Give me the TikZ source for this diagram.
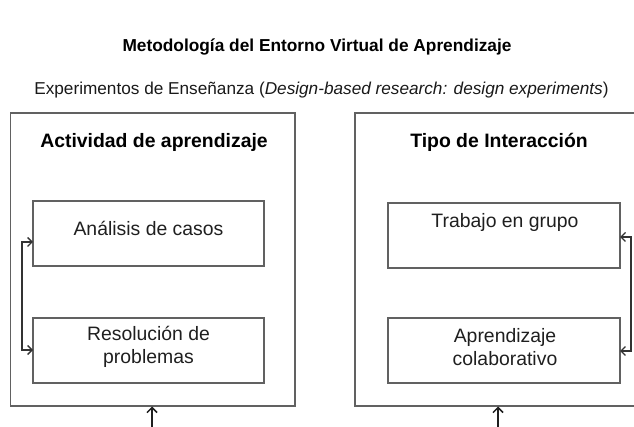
\documentclass[tikz,border=0pt]{standalone}
\usepackage{fontspec}
\setmainfont{Liberation Sans}
\usetikzlibrary{arrows.meta}
\begin{document}
\begin{tikzpicture}[x=1pt,y=-1pt,
  frame/.style={draw=black!62, line width=1.4pt},
  boxnode/.style={draw=black!62, line width=1.3pt, minimum width=231pt, minimum height=65pt, inner sep=0pt},
  boxtext/.style={font=\fontsize{19.4}{23}\selectfont, align=center, inner sep=0pt, text=black!88},
  headtext/.style={font=\bfseries\fontsize{19.4}{23}\selectfont, inner sep=0pt, text=black},
  tip/.style={Straight Barb[length=4.5pt,width=9pt,line width=1.4pt]},
  conn/.style={draw=black!88, line width=1.3pt, -{Straight Barb[length=5pt,width=10pt,line width=1.5pt]}},
  connboth/.style={draw=black!80, line width=1.2pt, {Straight Barb[length=4.5pt,width=9pt,line width=1.4pt]}-{Straight Barb[length=4.5pt,width=9pt,line width=1.4pt]}}]
\useasboundingbox (0,0) rectangle (634,427);
\clip (0,0) rectangle (634,427);
% title
\node[font=\bfseries\fontsize{17.3}{20}\selectfont, inner sep=0pt, text=black] (title) at (317,47) {Metodología del Entorno Virtual de Aprendizaje};
\node[font=\fontsize{17.2}{20}\selectfont, inner sep=0pt, text=black!90] (sub) at (321.5,90) {Experimentos de Enseñanza (\textit{Design-based research: design experiments})};
% outer frames
\draw[frame] (10.5,113) rectangle (295,406);
\draw[frame] (355,113) rectangle (645,406);
\coordinate (lbot) at (152,406.5);
\coordinate (rbot) at (498,406.5);
\coordinate (lsrc) at (152,440);
\coordinate (rsrc) at (498,440);
% headings
\node[headtext] (h1) at (154,142) {Actividad de aprendizaje};
\node[headtext] (h2) at (499,142) {Tipo de Interacción};
% inner boxes left
\node[boxnode] (a1) at (148.5,233.5) {};
\node[boxtext] (t1) at (148.5,228) {Análisis de casos};
\node[boxnode] (a2) at (148.5,350.5) {};
\node[boxtext] (t2) at (148.5,347) {Resolución de\\problemas};
% inner boxes right
\node[boxnode, minimum width=232pt] (b1) at (504,235.5) {};
\node[boxtext] (u1) at (505,222) {Trabajo en grupo};
\node[boxnode, minimum width=232pt] (b2) at (504,350.5) {};
\node[boxtext] (u2) at (505,347) {Aprendizaje\\colaborativo};
% side connectors
\coordinate (la) at (33,242);
\coordinate (lb) at (33,350);
\coordinate (ra) at (620,237);
\coordinate (rb) at (620,351);
\draw[connboth] (la) -- ++(-11,0) |- (lb);
\draw[connboth] (ra) -- ++(11,0) |- (rb);
% bottom arrows
\draw[conn] (lsrc) -- (lbot);
\draw[conn] (rsrc) -- (rbot);
\end{tikzpicture}
\end{document}
